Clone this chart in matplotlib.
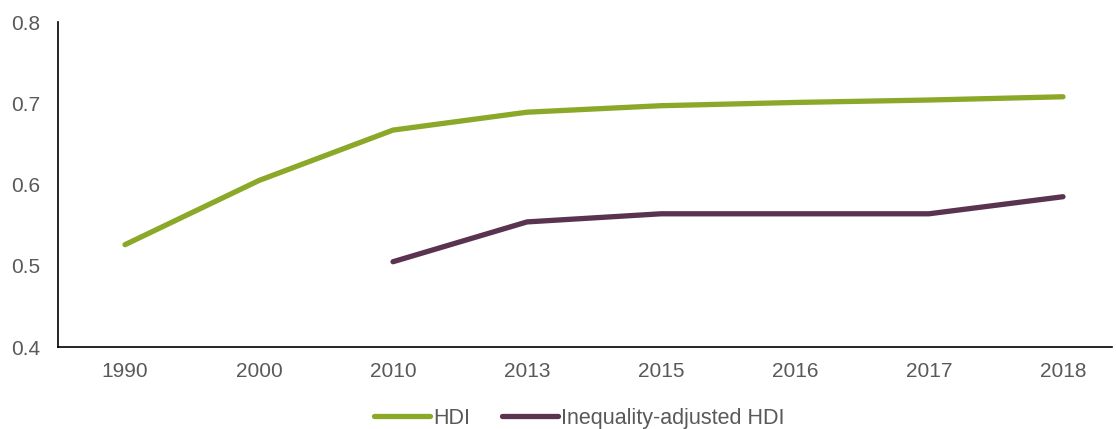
import numpy as np
import matplotlib.pyplot as plt

plt.rcParams['font.family'] = ['Liberation Sans', 'DejaVu Sans']

# data
years = ['1990', '2000', '2010', '2013', '2015', '2016', '2017', '2018']
hdi = [0.526, 0.605, 0.667, 0.689, 0.697, 0.701, 0.704, 0.708]
ihdi = [np.nan, np.nan, 0.505, 0.554, 0.564, 0.564, 0.564, 0.585]

green = '#8ba829'
purple = '#5a3350'
grey = '#595959'

fig = plt.figure(figsize=(11.16, 4.29), dpi=100)
ax = fig.add_axes([0.052, 0.191, 0.9444, 0.7577])

x = np.arange(len(years))
ax.plot(x, hdi, color=green, lw=3.8, solid_capstyle='round', solid_joinstyle='round', label='HDI')
ax.plot(x, ihdi, color=purple, lw=3.8, solid_capstyle='round', solid_joinstyle='round',
        label='Inequality-adjusted HDI')

ax.set_xlim(-0.5, len(years) - 0.5 - 18 / 134)
ax.set_ylim(0.4, 0.8)
ax.set_yticks([0.4, 0.5, 0.6, 0.7, 0.8])
ax.set_yticklabels(['0.4', '0.5', '0.6', '0.7', '0.8'])
ax.set_xticks(x)
ax.set_xticklabels(years)
ax.tick_params(axis='both', length=0, labelsize=15, labelcolor=grey)
ax.tick_params(axis='y', pad=13)
ax.tick_params(axis='x', pad=11)

for s in ['top', 'right']:
    ax.spines[s].set_visible(False)
for s in ['left', 'bottom']:
    ax.spines[s].set_linewidth(1.2)
    ax.spines[s].set_color('black')

leg = fig.legend(loc='center', bbox_to_anchor=(0.519, 1 - 418.5 / 429), ncol=2, frameon=False,
                 fontsize=15.5, handlelength=2.6, handletextpad=0.12, columnspacing=1.5)
for t in leg.get_texts():
    t.set_color(grey)

fig.savefig('out.png', dpi=100)
